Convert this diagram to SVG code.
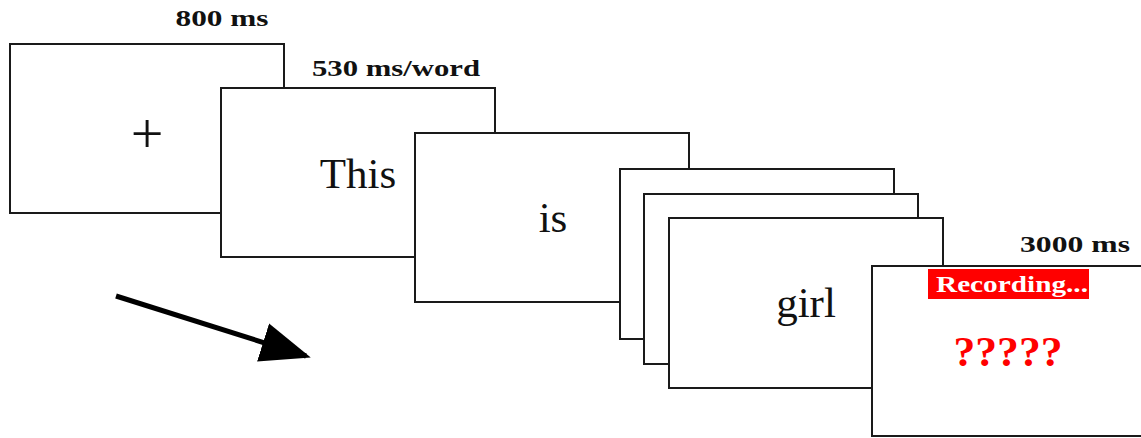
<svg xmlns="http://www.w3.org/2000/svg" width="1141" height="438" viewBox="0 0 1141 438">
  <style>
    .screen { fill: #ffffff; stroke: #1a1a1a; stroke-width: 2; }
    .timing { font-family: "Liberation Serif", "DejaVu Serif", serif; font-weight: bold; font-size: 23px; fill: #111111; }
    .word { font-family: "Liberation Serif", "DejaVu Serif", serif; font-size: 43px; fill: #111111; }
    .cross { font-size: 58px; }
    .prompt { font-family: "Liberation Serif", "DejaVu Serif", serif; font-weight: bold; fill: #ff0000; }
  </style>
  <defs>
    <marker id="head" markerWidth="10" markerHeight="8" refX="9" refY="4" orient="auto" markerUnits="strokeWidth">
      <path d="M0,0 L10,4 L0,8 Z" fill="#000000"/>
    </marker>
  </defs>

  <rect width="1141" height="438" fill="#ffffff"/>

  <!-- fixation -->
  <g id="fixation">
    <rect class="screen" x="10" y="44" width="274" height="169"/>
    <text class="timing" x="222" y="26" text-anchor="middle" textLength="93" lengthAdjust="spacingAndGlyphs">800 ms</text>
    <text class="word cross" x="147" y="153" text-anchor="middle">+</text>
  </g>

  <!-- word 1 -->
  <g id="word-this">
    <rect class="screen" x="221" y="88" width="274" height="169"/>
    <text class="timing" x="396" y="76" text-anchor="middle" textLength="168" lengthAdjust="spacingAndGlyphs">530 ms/word</text>
    <text class="word" x="358" y="188" text-anchor="middle">This</text>
  </g>

  <!-- word 2 -->
  <g id="word-is">
    <rect class="screen" x="415" y="133" width="274" height="169"/>
    <text class="word" x="553" y="232" text-anchor="middle">is</text>
  </g>

  <!-- stacked words -->
  <g id="word-stack-1">
    <rect class="screen" x="620" y="169" width="274" height="170"/>
  </g>
  <g id="word-stack-2">
    <rect class="screen" x="644" y="194" width="274" height="170"/>
  </g>
  <g id="word-girl">
    <rect class="screen" x="669" y="218" width="274" height="170"/>
    <text class="word" x="806" y="317" text-anchor="middle">girl</text>
  </g>

  <!-- response screen -->
  <g id="response">
    <rect class="screen" x="872" y="266" width="280" height="170"/>
    <text class="timing" x="1075" y="252" text-anchor="middle" textLength="110" lengthAdjust="spacingAndGlyphs">3000 ms</text>
    <rect x="928" y="269" width="161" height="30" fill="#ff0000"/>
    <text class="prompt" x="1012" y="292" text-anchor="middle" font-size="23" style="fill:#ffffff" textLength="152" lengthAdjust="spacingAndGlyphs">Recording...</text>
    <text class="prompt" x="1008" y="366" text-anchor="middle" font-size="42" textLength="109" lengthAdjust="spacingAndGlyphs">?????</text>
  </g>

  <!-- time direction -->
  <g id="connectors">
    <line x1="116" y1="296" x2="306" y2="356" stroke="#000000" stroke-width="5" marker-end="url(#head)"/>
  </g>
</svg>
